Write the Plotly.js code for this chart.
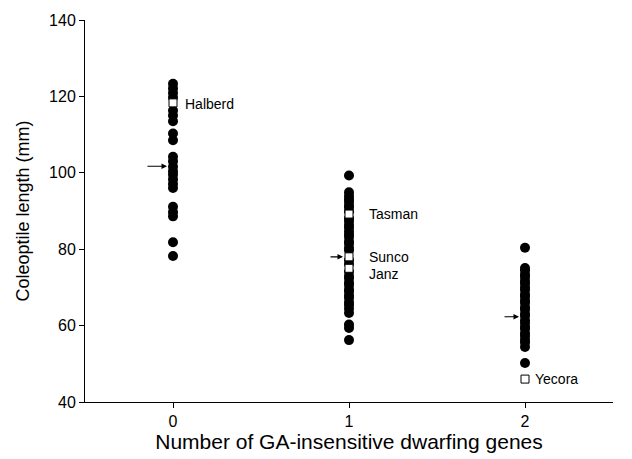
<!DOCTYPE html>
<html><head><meta charset="utf-8">
<script src="https://cdn.plot.ly/plotly-3.0.1.min.js"></script>
<style>body{margin:0;padding:0;background:#fff}#chart{width:632px;height:459px}</style>
</head><body><div id="chart"></div>
<script>
// Genotype values (coleoptile length, mm) per number of GA-insensitive dwarfing genes
const genes0 = [123.3, 122.1, 120.9, 119.7, 116.3, 115.0, 113.5, 110.3, 108.5, 104.2, 103.0, 101.6, 100.4, 99.5, 98.3, 97.1, 96.0, 91.1, 89.7, 88.6, 81.8, 78.2];
const genes1 = [99.3, 94.9, 93.9, 93.1, 92.4, 91.5, 90.9, 89.9, 88.1, 87.4, 86.4, 85.7, 84.7, 83.9, 83.2, 82.1, 81.5, 80.4, 79.7, 77.1, 76.1, 74.1, 73.0, 72.4, 71.3, 70.6, 69.5, 68.9, 67.9, 67.2, 66.1, 65.4, 64.4, 63.3, 60.3, 59.4, 56.2];
const genes2 = [80.4, 75.1, 74.5, 73.4, 72.7, 71.7, 71.0, 70.0, 69.3, 68.2, 67.6, 66.6, 65.9, 64.8, 64.2, 63.1, 62.5, 61.4, 60.7, 59.7, 59.1, 58.0, 57.3, 56.3, 55.6, 54.4, 50.2];
const cultivarNames = ["Halberd", "Tasman", "Sunco", "Janz", "Yecora"];
const cultivarGenes = [0, 1, 1, 1, 2];
const cultivarValues = [118.3, 89.2, 78.0, 75.0, 46.0];
const meanGenes = [0, 1, 2];
const meanValues = [101.7, 78.0, 62.3];
const xTicks = [0, 1, 2];
const yTicks = [40, 60, 80, 100, 120, 140];

const allX = [].concat(genes0.map(() => 0), genes1.map(() => 1), genes2.map(() => 2));
const allY = [].concat(genes0, genes1, genes2);

const traces = [
  {x: allX, y: allY, type: 'scatter', mode: 'markers',
   marker: {symbol: 'circle', size: 10, color: '#000'}, hoverinfo: 'y', cliponaxis: false},
  {x: cultivarGenes, y: cultivarValues, type: 'scatter', mode: 'markers',
   marker: {symbol: 'square', size: 8, color: '#fff', line: {color: '#000', width: 1}}, cliponaxis: false}
];

const labelShift = [10, 18, 18, 18, 8];
const labelYShift = [-1, 0, 0, -6, 0];
const annotations = cultivarNames.map((n, i) => ({
  x: cultivarGenes[i], y: cultivarValues[i], text: n, showarrow: false,
  xanchor: 'left', yanchor: 'middle', xshift: labelShift[i], yshift: labelYShift[i],
  font: {family: 'Liberation Sans, Arial, sans-serif', size: 14, color: '#000'}
}));
const arrowLen = [-27, -20, -22];
meanGenes.forEach((g, i) => annotations.push({
  x: g, y: meanValues[i], text: '', showarrow: true, ax: arrowLen[i], ay: 0,
  arrowhead: 2, arrowsize: 1, arrowwidth: 1.1, arrowcolor: '#000', standoff: 6
}));

const layout = {
  width: 632, height: 459,
  margin: {l: 85, r: 19, t: 20, b: 57},
  paper_bgcolor: '#fff', plot_bgcolor: '#fff',
  showlegend: false,
  font: {family: 'Liberation Sans, Arial, sans-serif', color: '#000'},
  xaxis: {range: [-0.5, 2.5], tickvals: xTicks, ticktext: xTicks.map(String),
    showgrid: false, zeroline: false, showline: true, linecolor: '#000', linewidth: 1,
    ticks: 'outside', ticklen: 5, tickcolor: '#000', tickfont: {size: 16},
    title: {text: 'Number of GA-insensitive dwarfing genes', font: {size: 21}, standoff: 5}},
  yaxis: {range: [40, 140], tickvals: yTicks, ticktext: yTicks.map(String),
    showgrid: false, zeroline: false, showline: true, linecolor: '#000', linewidth: 1,
    ticks: 'outside', ticklen: 5, tickcolor: '#000', tickfont: {size: 16},
    title: {text: 'Coleoptile length (mm)', font: {size: 18}, standoff: 14}},
  annotations: annotations
};
Plotly.newPlot('chart', traces, layout, {displayModeBar: false, staticPlot: true});
</script></body></html>
